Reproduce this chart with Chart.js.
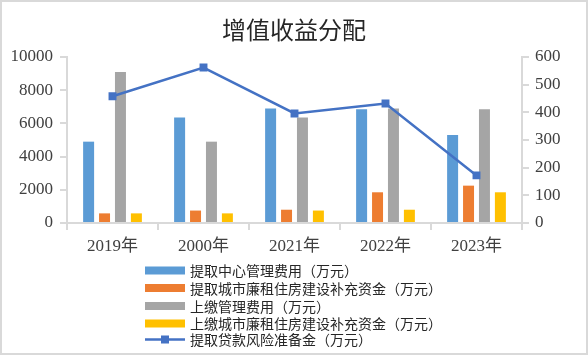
<!DOCTYPE html>
<html><head><meta charset="utf-8">
<script src="https://cdn.jsdelivr.net/npm/chart.js@4/dist/chart.umd.min.js"></script>
<style>html,body{margin:0;padding:0;background:#fff}#wrap{width:588px;height:356px;position:relative}</style>
</head><body><div id="wrap"><canvas id="c" width="588" height="356"></canvas></div>
<script>
const categories = ['2019年', '2000年', '2021年', '2022年', '2023年'];
const seriesNames = ['提取中心管理费用（万元）', '提取城市廉租住房建设补充资金（万元）', '上缴管理费用（万元）', '上缴城市廉租住房建设补充资金（万元）', '提取贷款风险准备金（万元）'];
const centerFee = [4900, 6350, 6900, 6850, 5300];
const lowRentFund = [580, 750, 800, 1850, 2250];
const paidFee = [9100, 4900, 6350, 6900, 6850];
const paidLowRentFund = [580, 580, 750, 800, 1850];
const riskReserve = [458, 562, 396, 432, 172];
const leftTicks = [0, 2000, 4000, 6000, 8000, 10000];
const rightTicks = [0, 100, 200, 300, 400, 500, 600];

const colors = ['#5B9BD5', '#ED7D31', '#A5A5A5', '#FFC000', '#4472C4'];
const axisColor = '#d9d9d9';
const tickFont = {family: "'Liberation Serif', 'Noto Sans CJK SC', serif", size: 17};

const legendPlugin = {
  id: 'customLegend',
  afterDraw(chart) {
    const ctx = chart.ctx;
    ctx.save();
    ctx.strokeStyle = '#d9d9d9';
    ctx.lineWidth = 2;
    ctx.strokeRect(1, 1, 586, 353);
    const x0 = 145, sw = 40, tx = 190;
    const ys = [270.5, 288, 306, 323.5, 339.5];
    ctx.font = "14px 'Noto Sans CJK SC', sans-serif";
    ctx.textBaseline = 'middle';
    chart.data.datasets.forEach((ds, i) => {
      const y = ys[i];
      if (ds.type === 'line') {
        ctx.strokeStyle = ds.borderColor;
        ctx.lineWidth = 2.5;
        ctx.beginPath(); ctx.moveTo(x0, y); ctx.lineTo(x0 + sw, y); ctx.stroke();
        ctx.fillStyle = ds.borderColor;
        ctx.fillRect(x0 + sw / 2 - 4, y - 4, 8, 8);
      } else {
        ctx.fillStyle = ds.backgroundColor;
        ctx.fillRect(x0, y - 4, sw, 8);
      }
      ctx.fillStyle = '#262626';
      ctx.fillText(ds.label, tx, y + 0.5);
    });
    ctx.restore();
  }
};

new Chart(document.getElementById('c'), {
  type: 'bar',
  data: {
    labels: categories,
    datasets: [
      {label: seriesNames[0], data: centerFee, backgroundColor: colors[0], yAxisID: 'y', order: 1},
      {label: seriesNames[1], data: lowRentFund, backgroundColor: colors[1], yAxisID: 'y', order: 1},
      {label: seriesNames[2], data: paidFee, backgroundColor: colors[2], yAxisID: 'y', order: 1},
      {label: seriesNames[3], data: paidLowRentFund, backgroundColor: colors[3], yAxisID: 'y', order: 1},
      {type: 'line', label: seriesNames[4], data: riskReserve, yAxisID: 'y1', borderColor: colors[4], backgroundColor: colors[4], borderWidth: 2.5, pointStyle: 'rect', pointRadius: 5.6, pointBackgroundColor: colors[4], pointBorderWidth: 0, order: 0, tension: 0}
    ]
  },
  options: {
    responsive: false,
    animation: false,
    categoryPercentage: 0.70,
    barPercentage: 0.69,
    layout: {padding: {left: 0, right: 0, top: 0, bottom: 93}},
    plugins: {
      legend: {display: false},
      tooltip: {enabled: false},
      title: {display: true, text: '增值收益分配', color: '#262626',
        font: {family: "'Noto Sans CJK SC', sans-serif", size: 24, weight: 'normal', lineHeight: 1.2},
        padding: {top: 15.6, bottom: 12.6}}
    },
    scales: {
      x: {
        grid: {display: true, drawOnChartArea: false, drawTicks: true, tickLength: 7, color: axisColor, lineWidth: 2, offset: true},
        border: {display: true, color: axisColor, width: 2},
        ticks: {color: '#404040', font: tickFont, padding: 6},
        afterFit(s) { s.height = 40; }
      },
      y: {
        position: 'left', min: 0, max: 10000,
        afterBuildTicks(s) { s.ticks = leftTicks.map(v => ({value: v})); },
        grid: {display: true, drawOnChartArea: false, drawTicks: true, tickLength: 7, color: axisColor, lineWidth: 2},
        border: {display: true, color: axisColor, width: 2},
        ticks: {color: '#404040', font: tickFont, padding: 7, callback: v => String(v)},
        afterFit(s) { s.width = 67; }
      },
      y1: {
        position: 'right', min: 0, max: 600,
        afterBuildTicks(s) { s.ticks = rightTicks.map(v => ({value: v})); },
        grid: {display: true, drawOnChartArea: false, drawTicks: true, tickLength: 7, color: axisColor, lineWidth: 2},
        border: {display: true, color: axisColor, width: 2},
        ticks: {color: '#404040', font: tickFont, padding: 6, callback: v => String(v)},
        afterFit(s) { s.width = 66; }
      }
    }
  },
  plugins: [legendPlugin]
});
</script></body></html>
